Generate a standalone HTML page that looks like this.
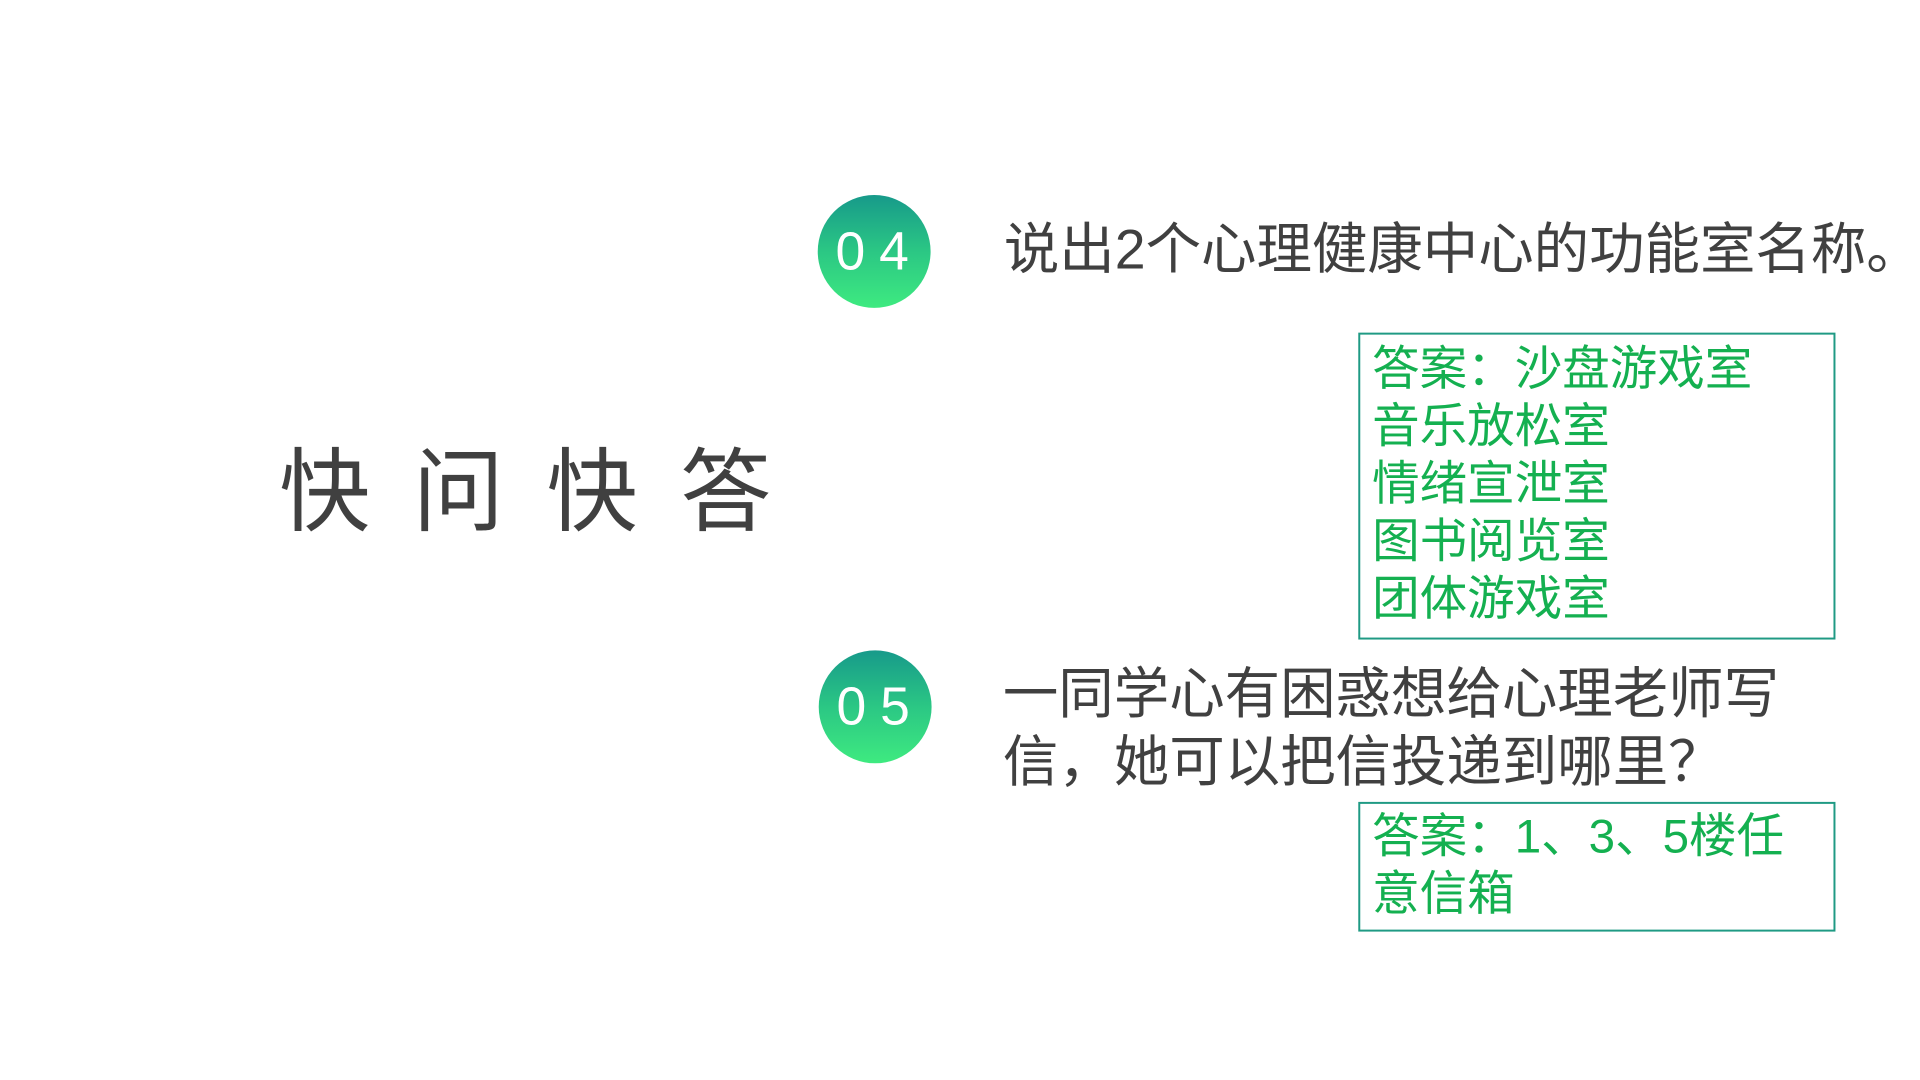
<!DOCTYPE html>
<html><head><meta charset="utf-8"><style>
body{margin:0;width:1920px;height:1080px;background:#fff;position:relative;overflow:hidden;font-family:"Liberation Sans","Noto Sans CJK SC",sans-serif}
#w{position:absolute;left:0;top:0;width:1920px;height:1080px;transform:scale(0.99);transform-origin:0 0}
.a{position:absolute;white-space:nowrap}
.c{position:absolute;width:114px;height:114px;border-radius:50%;background:linear-gradient(180deg,#179a8a 0%,#2bc784 50%,#3eea80 100%);color:#fff;font-size:54px;line-height:114px;text-align:center;letter-spacing:14px;text-indent:10px;font-family:"Liberation Sans",sans-serif}
.q{color:#404040}
.box{position:absolute;border:2px solid #1f9a84;box-sizing:border-box}
.g{color:#14b050;font-size:48px;line-height:58px}
</style></head><body><div id="w">
<div class="a q" style="left:282px;top:443px;font-size:92px;line-height:110px;letter-spacing:43px">快问快答</div>
<div class="c" style="left:826px;top:197px">04</div>
<div class="a q" style="left:1014px;top:220px;font-size:56px;line-height:64px">说出2个心理健康中心的功能室名称。</div>
<div class="box" style="left:1372px;top:336px;width:482px;height:310px"></div>
<div class="a g" style="left:1386px;top:345px">答案：沙盘游戏室<br>音乐放松室<br>情绪宣泄室<br>图书阅览室<br>团体游戏室</div>
<div class="c" style="left:827px;top:657px">05</div>
<div class="a q" style="left:1013px;top:666px;font-size:56px;line-height:69px">一同学心有困惑想给心理老师写<br>信，她可以把信投递到哪里？</div>
<div class="box" style="left:1372px;top:810px;width:482px;height:131px"></div>
<div class="a g" style="left:1386px;top:817px">答案：1、3、5楼任<br>意信箱</div>
</div></body></html>
